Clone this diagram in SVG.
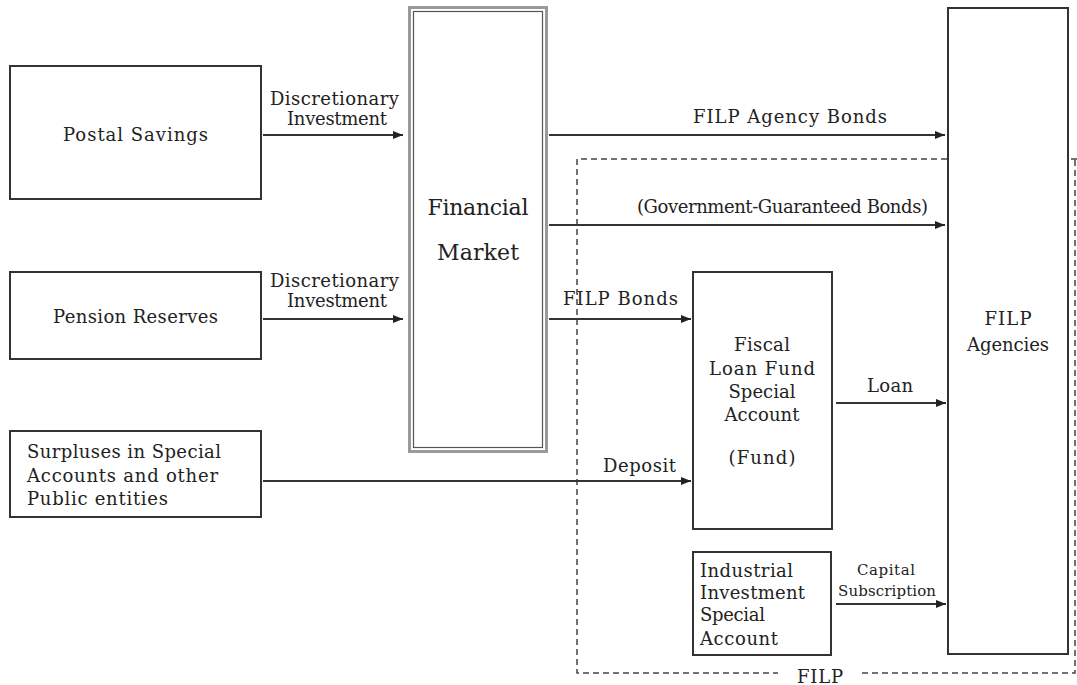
<svg xmlns="http://www.w3.org/2000/svg" width="1077" height="685" viewBox="0 0 1077 685">
  <style>
    .box { fill: #fff; stroke: #333; stroke-width: 2; }
    .lbl { font-family: "DejaVu Serif", "Liberation Serif", serif; font-size: 18px; fill: #222; }
    .big { font-size: 22px; }
    .sm { font-size: 15px; }
    .mid { text-anchor: middle; }
    .flow { stroke: #333; stroke-width: 2; fill: none; marker-end: url(#arrow); }
    .dash { stroke: #444; stroke-width: 1.5; fill: none; stroke-dasharray: 6 4; }
  </style>
  <defs>
    <marker id="arrow" viewBox="0 0 10 8" refX="10" refY="4" markerWidth="10" markerHeight="8" markerUnits="userSpaceOnUse" orient="auto">
      <path d="M0,0 L10,4 L0,8 Z" fill="#222"/>
    </marker>
  </defs>
  <rect width="1077" height="685" fill="#fff"/>

  <!-- FILP boundary (dashed) -->
  <g id="filp-boundary">
    <path class="dash" d="M1077,159 L577,159 L577,673 L778,673"/>
    <path class="dash" d="M862,673 L1075,673 L1075,159"/>
    <text class="lbl mid" x="820" y="683" textLength="46">FILP</text>
  </g>

  <!-- Connectors -->
  <g id="connectors">
    <path class="flow" d="M263,135 H403"/>
    <text class="lbl mid" x="334.5" y="105" textLength="129">Discretionary</text>
    <text class="lbl mid" x="337" y="125" textLength="100">Investment</text>

    <path class="flow" d="M263,319 H403"/>
    <text class="lbl mid" x="334.5" y="287" textLength="129">Discretionary</text>
    <text class="lbl mid" x="337" y="307" textLength="100">Investment</text>

    <path class="flow" d="M263,481 H691"/>
    <text class="lbl mid" x="639.5" y="472" textLength="73">Deposit</text>

    <path class="flow" d="M549,135 H945"/>
    <text class="lbl mid" x="790" y="123" textLength="194">FILP Agency Bonds</text>

    <path class="flow" d="M549,225 H945"/>
    <text class="lbl mid" x="782.5" y="213" textLength="291">(Government-Guaranteed Bonds)</text>

    <path class="flow" d="M549,319 H691"/>
    <text class="lbl mid" x="620.5" y="305" textLength="115">FILP Bonds</text>

    <path class="flow" d="M836,403 H946"/>
    <text class="lbl mid" x="890" y="392" textLength="46">Loan</text>

    <path class="flow" d="M836,604 H946"/>
    <text class="lbl sm mid" x="886" y="575" textLength="58">Capital</text>
    <text class="lbl sm mid" x="887" y="596" textLength="98">Subscription</text>
  </g>

  <!-- Nodes -->
  <g id="postal-savings">
    <rect class="box" x="10" y="66" width="251" height="133"/>
    <text class="lbl mid" x="135.5" y="141" textLength="145">Postal Savings</text>
  </g>

  <g id="pension-reserves">
    <rect class="box" x="10" y="272" width="251" height="87"/>
    <text class="lbl mid" x="135.5" y="323" textLength="165">Pension Reserves</text>
  </g>

  <g id="surpluses">
    <rect class="box" x="10" y="431" width="251" height="86"/>
    <text class="lbl" x="27" y="458" textLength="194">Surpluses in Special</text>
    <text class="lbl" x="27" y="482" textLength="191">Accounts and other</text>
    <text class="lbl" x="27" y="505" textLength="141">Public entities</text>
  </g>

  <g id="financial-market">
    <rect x="409.5" y="7.5" width="137" height="444" fill="#fff" stroke="#9a9a9a" stroke-width="3"/>
    <rect x="413.5" y="11.5" width="129" height="436" fill="none" stroke="#555" stroke-width="1.2"/>
    <text class="lbl big mid" x="478" y="215" textLength="101">Financial</text>
    <text class="lbl big mid" x="478" y="260" textLength="82">Market</text>
  </g>

  <g id="fiscal-loan-fund">
    <rect class="box" x="693" y="272" width="139" height="257"/>
    <text class="lbl mid" x="762" y="351" textLength="56">Fiscal</text>
    <text class="lbl mid" x="762" y="375" textLength="106">Loan Fund</text>
    <text class="lbl mid" x="762" y="398" textLength="67">Special</text>
    <text class="lbl mid" x="762" y="421" textLength="75">Account</text>
    <text class="lbl mid" x="762" y="464" textLength="67">(Fund)</text>
  </g>

  <g id="industrial-investment">
    <rect class="box" x="693" y="552" width="138" height="103"/>
    <text class="lbl" x="700" y="577" textLength="93">Industrial</text>
    <text class="lbl" x="700" y="599" textLength="105">Investment</text>
    <text class="lbl" x="700" y="621" textLength="65">Special</text>
    <text class="lbl" x="700" y="645" textLength="78">Account</text>
  </g>

  <g id="filp-agencies">
    <rect class="box" x="948" y="8" width="120" height="646"/>
    <text class="lbl mid" x="1008" y="325" textLength="47">FILP</text>
    <text class="lbl mid" x="1008" y="351" textLength="82">Agencies</text>
  </g>
</svg>
